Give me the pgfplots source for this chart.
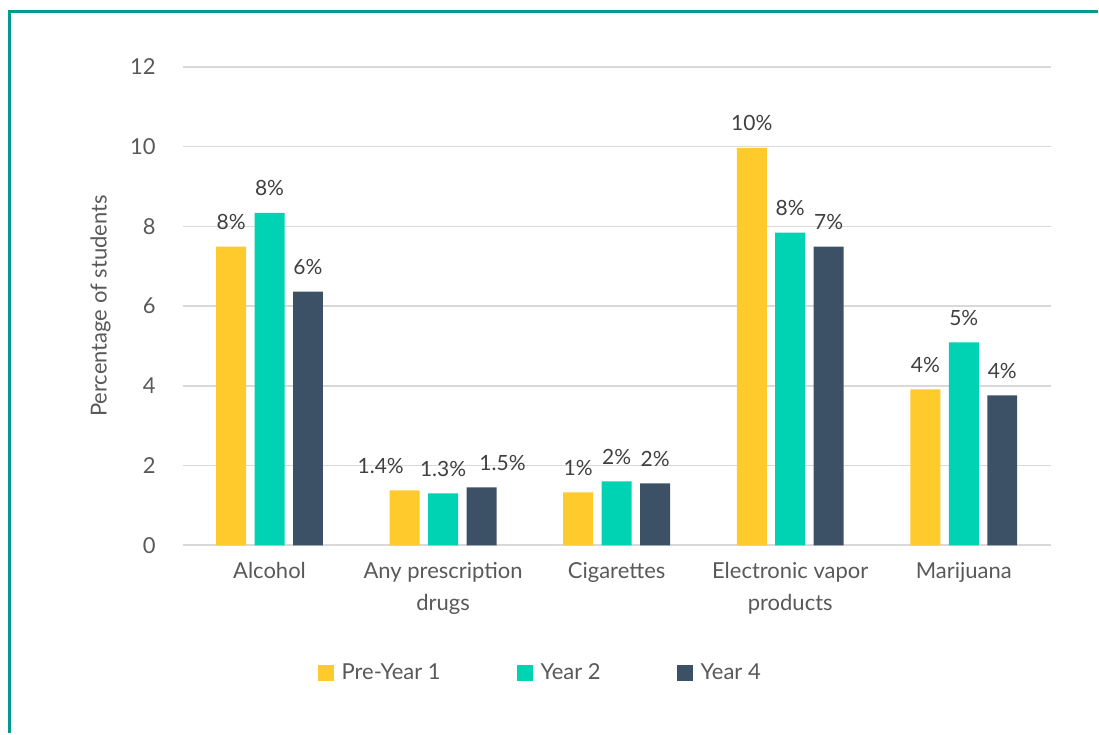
\documentclass[border=0pt]{standalone}
\usepackage{pgfplots}
\usepackage{pgfplotstable}
\pgfplotsset{compat=1.18}
\usepackage{fontspec}
\setmainfont{Lato}
\definecolor{cyel}{HTML}{FFCA2C}
\definecolor{cteal}{HTML}{00D2B4}
\definecolor{cslate}{HTML}{3D5166}
\definecolor{cframe}{HTML}{009B8F}
\definecolor{ctxt}{HTML}{595959}
\definecolor{clab}{HTML}{404040}
\definecolor{cgrid}{HTML}{D9D9D9}

\pgfplotstableread{
x y lab dx
0 7.49 8 0
1 1.38 1.4 -12
2 1.33 1 0
3 9.97 10 0
4 3.91 4 0
}\pre
\pgfplotstableread{
x y lab dx
0 8.34 8 0
1 1.30 1.3 0
2 1.60 2 0
3 7.84 8 0
4 5.09 5 0
}\yrtwo
\pgfplotstableread{
x y lab dx
0 6.36 6 0
1 1.45 1.5 10.5
2 1.55 2 0
3 7.49 7 0
4 3.76 4 0
}\yrfour

\begin{document}
\begin{tikzpicture}
\path (0,0) rectangle (549.5pt,367pt);
\draw[cframe,line width=1.5pt] (5pt,0pt) -- (5pt,361pt) -- (549.5pt,361pt);
\begin{axis}[
  at={(91.5pt,94pt)}, anchor=south west,
  scale only axis, width=434.5pt, height=239.5pt,
  ymin=0, ymax=12, ytick={0,2,...,12},
  xmin=-0.5, xmax=4.5,
  xtick={0,1,2,3,4},
  xticklabels={Alcohol,{Any prescription\\drugs},Cigarettes,{Electronic vapor\\products},Marijuana},
  xticklabel style={align=center, font=\fontsize{11}{16}\selectfont, text=ctxt},
  yticklabel style={font=\fontsize{11}{13}\selectfont, text=ctxt},
  /pgf/number format/assume math mode=true,
  ymajorgrids, grid style={cgrid, line width=0.8pt},
  major tick length=0pt,
  axis x line*=bottom, axis y line*=left,
  x axis line style={cgrid, line width=0.8pt, -},
  y axis line style={draw=none},
  xtick style={draw=none},
  ytick style={draw=none},
  yticklabel shift=10pt,
  xticklabel shift=5pt,
  ylabel={Percentage of students},
  ylabel style={font=\fontsize{11}{13}\selectfont, text=ctxt},
  y label style={at={(axis description cs:-0.075,0.5)}, anchor=south},
  ybar=4.25pt, bar width=15pt,
  point meta=explicit symbolic,
  visualization depends on={\thisrow{dx} \as \dx},
  nodes near coords={\pgfplotspointmeta\%},
  every node near coord/.append style={font=\fontsize{10.5}{12}\selectfont, text=clab, yshift=5pt, xshift=\dx pt},
  legend style={at={(0.155,-0.267)}, anchor=west, draw=none, inner sep=0pt,
    font=\fontsize{11}{13}\selectfont, text=ctxt, legend columns=3,
    /tikz/every odd column/.append style={column sep=2pt},
    /tikz/every even column/.append style={column sep=36pt}},
  legend image code/.code={\fill[#1] (0pt,-4pt) rectangle (8pt,4pt);},
  clip=false,
]
\addplot[fill=cyel, draw=none] table[x=x,y=y,meta=lab]{\pre};
\addplot[fill=cteal, draw=none] table[x=x,y=y,meta=lab]{\yrtwo};
\addplot[fill=cslate, draw=none] table[x=x,y=y,meta=lab]{\yrfour};
\legend{Pre-Year 1,Year 2,Year 4}
\end{axis}
\end{tikzpicture}
\end{document}
